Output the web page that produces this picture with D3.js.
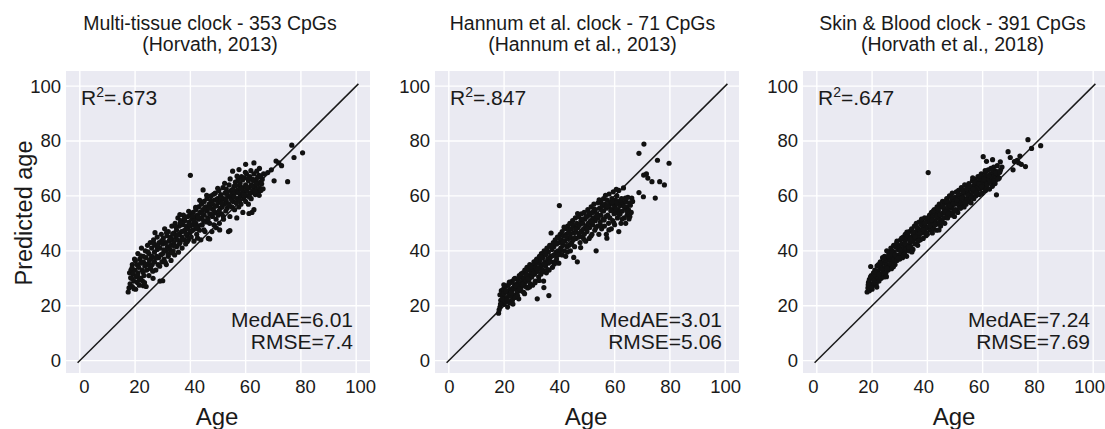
<!DOCTYPE html>
<html>
<head>
<meta charset="utf-8">
<script src="https://cdn.jsdelivr.net/npm/d3@7"></script>
<style>
  body { margin: 0; background: #fff; }
  svg { display: block; font-family: "Liberation Sans", Arial, Helvetica, sans-serif; }
</style>
</head>
<body>
<div id="chart"></div>
<script>
// ---- data ----
const tickValues = [0, 20, 40, 60, 80, 100];
const panelTitles = [
  ["Multi-tissue clock - 353 CpGs", "(Horvath, 2013)"],
  ["Hannum et al. clock - 71 CpGs", "(Hannum et al., 2013)"],
  ["Skin & Blood clock - 391 CpGs", "(Horvath et al., 2018)"]
];
const r2Values = [".673", ".847", ".647"];
const medaeValues = ["6.01", "3.01", "7.24"];
const rmseValues = ["7.4", "5.06", "7.69"];

// [age, predicted age]
const multiTissue = [
  [17.5,25],[17.8,26.5],[18,32],[18.2,28],[18.5,33],[18.7,30],[19,27],[19,35],[19.3,31.5],[19.5,29],[19.8,37],[20,33],
  [20.2,26],[20.4,30.5],[20.6,35],[20.8,28.5],[21,39],[21,32],[21.3,34],[21.5,27.5],[21.7,37],[22,30],[22,35.5],[22.3,41],
  [22.5,33],[22.7,29],[23,38],[23,36],[23.2,31],[23.5,34.5],[23.7,40],[24,27],[24,37.5],[24.2,33],[24.5,42],[24.7,35],
  [25,31],[25,39],[25.2,36.5],[25.5,43],[25.7,33.5],[26,38],[26,41],[26.2,35],[26.5,30],[26.7,44],[27,39.5],[27,36],
  [27.3,42],[27.5,33],[27.8,38],[28,45],[28,40.5],[28.3,35],[28.5,37.5],[28.7,43],[29,29],[29,41],[29.3,38.5],[29.5,46],
  [29.7,36],[30,42.5],[30,39],[30.2,44.5],[30.5,37],[30.7,48],[31,40],[31,43],[31.3,35],[31.5,45.5],[31.7,41.5],[32,38],
  [32,47],[32.3,43.5],[32.5,40.5],[32.8,45],[33,36.5],[33,42],[33.3,49],[33.5,44],[33.8,40],[34,46.5],[34,43],[34.3,38.5],
  [34.5,50],[34.7,45],[35,41.5],[35,47.5],[35.3,44],[35.5,52],[35.7,39.5],[36,46],[36,49],[36.3,43],[36.5,51],[36.8,47],
  [37,41],[37,45],[37.3,49.5],[37.5,53],[37.8,44],[38,47.5],[38,51],[38.3,42.5],[38.5,49],[38.8,45.5],[39,52.5],[39,48],
  [39.3,44],[39.5,50.5],[39.8,46.5],[40,49],[40,53],[40,67.5],[40.3,45],[40.5,51.5],[40.8,47.5],[41,54],[41,49.5],[41.3,43.5],
  [41.5,52],[41.8,48],[42,55],[42,50],[42.3,46],[42.5,53],[42.8,49],[43,56],[43,51.5],[43.3,47.5],[43.5,54],[43.8,44],
  [44,52],[44,57],[44.3,49.5],[44.5,55],[44.8,51],[45,58],[45,53],[45.3,47],[45.5,56],[45.8,50.5],[46,54.5],[46,59],
  [46.3,52],[46.5,44.5],[46.8,57],[47,53.5],[47,50],[47.3,55.5],[47.5,60],[47.8,47],[48,57],[48,52.5],[48.3,55],[48.5,49.5],
  [48.8,58.5],[49,54],[49,61],[49.3,51.5],[49.5,56.5],[49.8,59],[50,53],[50,57.5],[50.3,62],[50.5,50],[50.8,55.5],[51,58],
  [51,60.5],[51.3,53.5],[51.5,56],[51.8,63],[52,59],[52,51.5],[52.3,57],[52.5,61],[52.8,54.5],[53,62.5],[53,58],[53.3,55.5],
  [53.5,60],[53.8,47],[54,57],[54,64],[54.3,52.5],[54.5,59.5],[54.8,62],[55,56],[55,60.5],[55.3,69],[55.5,58],[55.8,63.5],
  [56,55],[56,61],[56.3,65],[56.5,57.5],[56.8,52],[57,62],[57,59],[57.3,66],[57.5,56],[57.8,63.5],[58,60],[58,64.5],
  [58.3,57],[58.5,67],[58.8,61],[59,54],[59,63],[59.3,59],[59.5,66.5],[59.8,61.5],[60,64],[60,58],[60,71.5],[60.3,68],
  [60.5,62],[60.8,60],[61,65.5],[61,57],[61.3,63],[61.5,67],[61.8,61],[62,64],[62,59],[62.3,54],[62.5,66],[62.8,62],
  [63,55],[63,68],[63,72],[63.3,63.5],[63.5,60.5],[63.8,66],[64,62],[64,69],[64.3,64.5],[64.5,61],[64.8,67.5],[65,63],
  [65,70],[65.3,65],[65.5,62],[66,66],[66.5,68],[68,68.5],[69.3,69.5],[70.3,65.5],[71,72.7],[72,72],[73,71],[75.2,65.2],
  [76.7,78.5],[77.5,74],[80.6,75.7],[54.3,47.4],[47,44.3],[30,29.1],[23,27.3],
  [18.4,30.2],[18.9,33.8],[19.6,26.2],[20.1,36.4],[20.9,31.2],[21.6,29.6],[22.1,38.2],[22.9,32.2],[23.4,28.4],[23.9,35.2],
  [24.6,39.6],[25.4,34.2],[25.9,37.2],[26.4,32.6],[26.9,42.6],[27.6,37.4],[28.2,41.8],[28.9,34.4],[29.6,43.6],[30.4,40.4],
  [30.9,35.8],[31.4,46.6],[31.9,38.8],[32.6,44.2],[33.2,39.2],[33.6,46.2],[34.2,41.8],[34.9,48.6],[35.4,45.8],[35.9,42.4],
  [36.4,50.2],[36.9,44.2],[37.4,47.2],[37.9,51.8],[38.4,46.2],[38.9,43.4],[39.4,54.4],[39.9,49.6],[40.4,47.2],[40.9,52.6],
  [41.4,50.8],[41.9,55.8],[42.4,48.4],[42.9,52.2],[43.4,58.4],[43.9,49.4],[44.4,53.6],[44.9,47.6],[45.4,55.2],[45.9,60.2],
  [46.4,51.4],[46.9,55.6],[47.4,58.4],[47.9,53.2],[48.4,60.6],[48.9,56.2],[49.4,48.4],[49.9,62.8],[50.4,54.6],[50.9,59.8],
  [51.4,57.4],[51.9,52.6],[52.4,64.6],[52.9,58.8],[53.4,61.4],[53.9,56.4],[54.4,66.2],[54.9,58.6],[55.4,62.4],[55.9,59.6],
  [56.4,63.8],[56.9,67.2],[57.4,61.2],[57.9,58.4],[58.4,62.6],[58.9,65.8],[59.4,60.4],[59.9,68.6],[60.4,63.2],[60.9,66.4],
  [61.4,59.6],[61.9,69.2],[62.4,63.6],[62.9,65.4],[63.4,61.6],[63.9,64.4],[64.4,66.8],[64.9,60.2],[65.4,67.2],[65.8,64.4],
  [66.3,62.6],[44.6,62.2],[57.6,69.6],[61.2,53.6],[36.2,53.2],[27.2,46.6],[50.6,47.6],[42.6,44.6]
];

const hannum = [
  [18,17.3],[18.2,18.5],[18.5,19.5],[18.5,24],[18.8,22],[19,25.5],[19.2,21],[19.5,23.5],[19.7,26],[20,20.5],[20,24.5],[20.2,22.5],
  [20.5,27],[20.7,21.5],[21,25],[21,23],[21.3,19.5],[21.5,27.5],[21.8,24],[22,26],[22,21],[22.3,28.5],[22.5,23.5],[22.8,25.5],
  [23,22],[23,29],[23.3,26.5],[23.5,24],[23.8,27.5],[24,30],[24,23],[24.3,26],[24.5,28],[24.8,25],[25,29.5],[25,27],
  [25.3,22.5],[25.5,31],[25.8,28],[26,25.5],[26,30.5],[26.3,27],[26.5,29],[26.8,32],[27,28],[27,25],[27.3,30],[27.5,33],
  [27.8,27],[28,31.5],[28,29],[28.3,34],[28.5,26.5],[28.8,31],[29,33],[29,29.5],[29.3,35],[29.5,28],[29.8,32],[30,34.5],
  [30,30.5],[30.3,27.5],[30.5,33],[30.8,36],[31,31.5],[31,35],[31.3,29],[31.5,34],[31.8,37],[32,32.5],[32,22.5],[32.3,35.5],
  [32.5,30.5],[32.8,38],[33,34],[33,36.5],[33.3,31.5],[33.5,39],[33.8,35],[34,33],[34,37.5],[34.3,29],[34.5,40],[34.8,36],
  [35,34.5],[35,38.5],[35.3,32],[35.5,41],[35.8,37],[36,35.5],[36,39.5],[36.2,23.7],[36.3,33],[36.5,42],[36.8,38],[37,36],
  [37,46.5],[37.3,40.5],[37.5,34],[37.8,43],[38,38.5],[38,41.5],[38.3,36],[38.5,44],[38.8,39.5],[39,37],[39,42.5],[39.3,45],
  [39.5,40],[39.8,35.5],[40,43],[40,39],[40,56.5],[40.3,46],[40.5,41],[40.8,44],[41,38.5],[41,47],[41.3,42],[41.5,45.5],
  [41.8,40],[42,48],[42,43.5],[42.3,38],[42.5,46],[42.8,41.5],[43,49],[43,44.5],[43.3,47.5],[43.5,42],[43.8,50],[44,45],
  [44,40],[44.3,48],[44.5,43],[44.8,51],[45,46.5],[45,44],[45.3,49],[45.5,41.5],[45.8,52],[46,47],[46,44.5],[46.3,50],
  [46.5,36],[46.8,48.5],[47,45],[47,52.5],[47.3,49.5],[47.5,43],[47.8,51],[48,47],[48,53.5],[48.3,45],[48.5,50],[48.8,48],
  [49,54],[49,46],[49.3,51.5],[49.5,43.5],[49.8,49],[50,52.5],[50,47],[50.3,55],[50.5,50],[50.8,44.5],[51,53],[51,48.5],
  [51.3,51],[51.5,56],[51.8,46],[52,54],[52,49.5],[52.3,52],[52.5,57],[52.8,47.5],[53,55],[53,51],[53.3,40],[53.5,53.5],
  [53.8,49],[54,57.5],[54,52],[54.3,46],[54.5,55.5],[54.8,50.5],[55,58],[55,53],[55.3,48],[55.5,56.5],[55.8,51.5],[56,54.5],
  [56,59],[56.3,49],[56.5,57],[56.8,52.5],[57,55.5],[57,46],[57.3,58.5],[57.5,53],[57.8,50],[58,56],[58,60.7],[58.3,52],
  [58.5,57.5],[58.8,48],[59,55],[59,59],[59.3,51],[59.5,57],[59.8,53.5],[60,56],[60,49.5],[60.3,58.5],[60.5,54],[60.8,60],
  [61,52],[61,57],[61.3,55],[61.5,47],[61.8,58],[62,53.5],[62,56.5],[62.3,50],[62.5,59],[62.8,54.5],[63,57.5],[63.2,62.9],
  [63.5,52],[63.8,55.5],[64,58],[64,50],[64.3,56],[64.5,53],[64.8,59.5],[65,55],[65.3,57.5],[65.5,52.5],[66,54],[66.5,58],
  [68.8,61.2],[70.4,59.7],[70.5,67.6],[71.5,68],[72,66.5],[73.5,65.2],[74.7,59.2],[76.3,65.2],[75.5,73],[79.7,71.9],[78,64],
  [68.8,75.5],[70.6,78.9],[61.5,62],[59.5,61.5],
  [18.7,20.6],[19.4,22.4],[19.9,27.6],[20.6,25.4],[21.2,22.2],[21.9,28.6],[22.6,24.6],[23.2,20.6],[23.7,29.8],[24.4,27.2],
  [24.9,23.6],[25.6,26.2],[26.2,31.6],[26.7,27.8],[27.4,24.4],[27.9,31.2],[28.6,29.8],[29.2,26.8],[29.7,34.2],[30.6,31.8],
  [31.2,28.4],[31.6,36.4],[32.2,33.6],[32.7,29.2],[33.4,37.6],[33.9,32.4],[34.6,35.2],[35.2,39.8],[35.7,33.2],[36.4,37.2],
  [36.9,41.6],[37.6,38.2],[38.2,35.2],[38.7,42.6],[39.4,38.4],[39.9,44.6],[40.6,40.2],[41.2,43.2],[41.7,48.6],[42.4,45.2],
  [42.9,39.6],[43.6,46.4],[44.2,42.4],[44.7,49.6],[45.4,44.4],[45.9,47.8],[46.6,53.6],[47.2,46.2],[47.7,41.2],[48.4,51.6],
  [48.9,44.2],[49.6,52.4],[50.2,48.2],[50.7,53.8],[51.4,45.4],[51.9,50.4],[52.6,55.2],[53.2,48.4],[53.7,52.6],[54.4,58.6],
  [54.9,49.2],[55.6,54.6],[56.2,51.2],[56.7,60.2],[57.4,56.4],[57.9,47.6],[58.6,54.6],[59.2,57.8],[59.7,50.2],[60.4,55.2],
  [60.9,57.6],[61.6,53.2],[62.2,58.4],[62.7,51.6],[63.4,56.2],[63.9,59.2],[64.6,54.4],[65.2,51.6],[65.7,56.6],[66.2,59.2],
  [34.4,26.6],[57.2,44.6],[45.2,37.6],[60.6,62.4]
];

const skinBlood = [
  [18.2,25],[18.5,26.5],[18.7,28.5],[19,25.5],[19,29.5],[19.3,27],[19.5,34.3],[19.7,31],[20,28],[20,26],[20.3,30],[20.5,32],
  [20.8,27.5],[21,29.5],[21,33],[21.3,31],[21.5,28],[21.8,34.5],[22,30],[22,32.5],[22.3,35],[22.5,29],[22.8,33.5],[23,31.5],
  [23,36],[23.3,30],[23.5,34],[23.8,37.5],[24,32.5],[24,35.5],[24.3,30.5],[24.5,38],[24.8,34],[25,36.5],[25,32],[25.3,40],
  [25.5,35],[25.8,33],[26,37.5],[26,39.5],[26.3,34.5],[26.5,36.5],[26.8,41],[27,33.5],[27,38],[27.3,40],[27.5,36],[27.8,42],
  [28,37],[28,39.5],[28.3,35],[28.5,41.5],[28.8,38],[29,43.5],[29,36.5],[29.3,40.5],[29.5,38.5],[29.8,42],[30,37],[30,41],
  [30.3,44],[30.5,39],[30.8,42.5],[31,40],[31,37.5],[31.3,45],[31.5,41.5],[31.8,39],[32,43.5],[32,46],[32.3,40.5],[32.5,38],
  [32.8,44.5],[33,42],[33,45.5],[33.3,40],[33.5,47],[33.8,43],[34,41.5],[34,45],[34.3,48],[34.5,43.5],[34.8,40.5],[35,46],
  [35,44],[35.3,49],[35.5,42.5],[35.8,47],[36,44.5],[36,50],[36.3,46],[36.5,42],[36.8,48],[37,45.5],[37,50.5],[37.3,47.5],
  [37.5,44],[37.8,49.5],[38,46.5],[38,51],[38.3,48],[38.5,44.5],[38.8,50],[39,47],[39,52],[39.3,49],[39.5,45.5],[39.8,51],
  [40,48.5],[40,46],[40.3,68.5],[40.5,50.5],[40.8,53],[41,47.5],[41,51.5],[41.3,49],[41.5,54],[41.8,46.5],[42,50.5],[42,52.5],
  [42.3,48],[42.5,55],[42.8,51],[43,49.5],[43,53.5],[43.3,47.5],[43.5,56],[43.8,52],[44,50],[44,54.5],[44.3,57],[44.5,51.5],
  [44.8,49],[45,53],[45,56],[45.3,51],[45.5,58],[45.8,54],[46,52],[46,55.5],[46.3,50],[46.5,57.5],[46.8,53.5],[47,55],
  [47,59],[47.3,52],[47.5,56.5],[47.8,54],[48,57.5],[48,60],[48.3,53],[48.5,55.5],[48.8,58.5],[49,56],[49,61],[49.3,54],
  [49.5,58],[49.8,52.5],[50,57],[50,59.5],[50.3,55],[50.5,61.5],[50.8,57.5],[51,54],[51,59],[51.3,62],[51.5,56.5],[51.8,60],
  [52,55.5],[52,58],[52.3,63],[52.5,60.5],[52.8,57],[53,59.5],[53,62],[53.3,56],[53.5,64],[53.8,58.5],[54,61],[54,57],
  [54.3,63.5],[54.5,59],[54.8,61.5],[55,58],[55,64.5],[55.3,60.5],[55.5,62.5],[55.8,57.5],[56,63],[56,60],[56.3,65.5],[56.5,61.5],
  [56.8,59],[57,64],[57,62],[57.3,66],[57.5,60],[57.8,63],[58,65],[58,61.5],[58.3,67],[58.5,63.5],[58.8,60.5],[59,66],
  [59,62.5],[59.3,64.5],[59.5,68],[59.8,61],[60,65],[60,63],[60.2,74.3],[60.5,67],[60.8,64],[61,62],[61,68.5],[61.3,65.5],
  [61.5,63],[61.8,67],[62,64.5],[62,69.5],[62.3,66],[62.5,62.5],[62.8,68],[63,65],[63,70],[63.3,66.5],[63.5,63.5],[63.8,68.5],
  [64,66],[64,70.5],[64.3,67.5],[64.5,64.5],[64.8,69],[65,60.4],[65,67],[65.3,71],[65.5,68],[66,66.5],[66.5,69.5],[67,70.5],
  [69.2,76.1],[70,74],[71,69.5],[71.5,72.5],[72.5,73],[73,72],[73.5,74.5],[74,71.5],[75.5,70.7],[76.4,80.5],[77.7,77.3],[81,78.3],
  [18.6,27.6],[19.4,30.4],[19.8,26.6],[20.6,29.2],[21.2,32.2],[21.7,26.8],[22.4,31.4],[22.9,35.6],[23.6,33.2],[24.2,37.2],
  [24.7,31.8],[25.4,33.6],[25.9,38.2],[26.6,35.2],[27.2,39.4],[27.7,34.2],[28.4,38.4],[28.9,42.8],[29.6,37.4],[30.2,40.2],
  [30.7,44.6],[31.4,38.4],[31.9,42.6],[32.6,46.8],[33.2,41.4],[33.7,44.2],[34.4,39.6],[34.9,46.6],[35.6,45.2],[36.2,48.6],
  [36.7,43.6],[37.4,46.4],[37.9,51.6],[38.6,47.6],[39.2,50.2],[39.7,46.6],[40.4,52.2],[40.9,49.2],[41.6,51.2],[42.2,54.6],
  [42.7,49.6],[43.4,52.6],[43.9,55.2],[44.6,53.2],[45.2,50.4],[45.7,56.2],[46.4,54.2],[46.9,58.2],[47.6,53.6],[48.2,56.4],
  [48.7,59.6],[49.4,57.2],[49.9,54.6],[50.6,58.4],[51.2,60.6],[51.7,55.6],[52.4,59.2],[52.9,61.6],[53.6,57.6],[54.2,62.6],
  [54.7,60.2],[55.4,63.6],[55.9,59.2],[56.6,62.4],[57.2,65.2],[57.7,61.2],[58.6,64.4],[59.2,67.2],[59.6,63.4],[60.4,66.2],
  [60.9,69.2],[61.6,64.2],[62.2,67.4],[62.7,65.2],[63.6,69.4],[64.2,65.4],[64.7,68.4],[65.6,66.2],[66.2,68.6],[61.4,72.6],
  [63.6,73.2],[56.4,66.6],[44.2,47.6],[25.2,30.6],[66.4,72.4]
];

const panelData = [multiTissue, hannum, skinBlood];

// ---- layout ----
const W = 1105, H = 429;
const panelLeft = [66, 435, 803];
const titleShift = [-8, -4.5, -2.5];
const xLabelShift = [4, 0, -4];
const plotTop = 71, pw = 304, ph = 302;
const bg = "#eaeaf2", ink = "#1a1a1a";

const svg = d3.select("#chart").append("svg")
  .attr("width", W).attr("height", H);

panelData.forEach((pts, i) => {
  const x = d3.scaleLinear().domain([-5, 105]).range([0, pw]);
  const y = d3.scaleLinear().domain([-4.5, 105.5]).range([ph, 0]);

  const g = svg.append("g").attr("transform", `translate(${panelLeft[i]},${plotTop})`);

  g.append("rect").attr("width", pw).attr("height", ph).attr("fill", bg);

  // grid
  g.append("g").selectAll("line").data(tickValues).join("line")
    .attr("x1", d => x(d)).attr("x2", d => x(d))
    .attr("y1", 0).attr("y2", ph)
    .attr("stroke", "#fff").attr("stroke-width", 1.4);
  g.append("g").selectAll("line").data(tickValues).join("line")
    .attr("y1", d => y(d)).attr("y2", d => y(d))
    .attr("x1", 0).attr("x2", pw)
    .attr("stroke", "#fff").attr("stroke-width", 1.4);

  // axes (labels only)
  const xAxis = g.append("g").attr("transform", `translate(${xLabelShift[i]},${ph})`)
    .call(d3.axisBottom(x).tickValues(tickValues).tickSize(0).tickPadding(7));
  const yAxis = g.append("g")
    .call(d3.axisLeft(y).tickValues(tickValues).tickSize(0).tickPadding(5));
  [xAxis, yAxis].forEach(a => {
    a.select(".domain").remove();
    a.selectAll("text").attr("fill", ink).style("font-size", "18.5px")
      .style("font-family", "'Liberation Sans', Arial, sans-serif");
  });

  // identity line
  g.append("line")
    .attr("x1", x(-0.8)).attr("y1", y(-0.8))
    .attr("x2", x(100.8)).attr("y2", y(100.8))
    .attr("stroke", ink).attr("stroke-width", 1.5);

  // points
  g.append("g").selectAll("circle").data(pts).join("circle")
    .attr("cx", d => x(d[0])).attr("cy", d => y(d[1]))
    .attr("r", 2.6).attr("fill", "#111");

  // annotations
  const r2 = g.append("text").attr("x", 15).attr("y", 34)
    .attr("fill", ink).style("font-size", "21px");
  r2.append("tspan").text("R");
  r2.append("tspan").attr("dy", -8).style("font-size", "14px").text("2");
  r2.append("tspan").attr("dy", 8).text("=" + r2Values[i]);

  g.append("text").attr("x", pw - 17).attr("y", 256)
    .attr("text-anchor", "end").attr("fill", ink).style("font-size", "21px")
    .text("MedAE=" + medaeValues[i]);
  g.append("text").attr("x", pw - 17).attr("y", 277.5)
    .attr("text-anchor", "end").attr("fill", ink).style("font-size", "21px")
    .text("RMSE=" + rmseValues[i]);

  // title
  const tx = pw / 2 + titleShift[i];
  g.append("text").attr("x", tx).attr("y", -41.5)
    .attr("text-anchor", "middle").attr("fill", ink).style("font-size", "19.5px")
    .text(panelTitles[i][0]);
  g.append("text").attr("x", tx).attr("y", -20)
    .attr("text-anchor", "middle").attr("fill", ink).style("font-size", "19.5px")
    .text(panelTitles[i][1]);

  // x label
  g.append("text").attr("x", pw / 2 - 1).attr("y", ph + 52)
    .attr("text-anchor", "middle").attr("fill", ink).style("font-size", "24px")
    .text("Age");
});

// y label
svg.append("text")
  .attr("transform", `translate(32,${plotTop + 142}) rotate(-90)`)
  .attr("text-anchor", "middle").attr("fill", ink).style("font-size", "23.5px")
  .text("Predicted age");
</script>
</body>
</html>
